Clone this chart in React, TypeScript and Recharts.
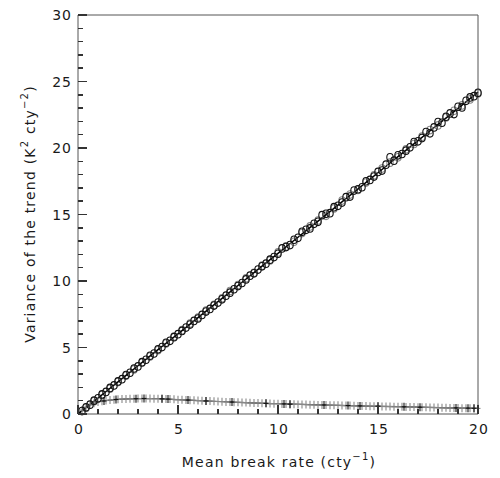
import React from 'react';
import { ComposedChart, XAxis, YAxis, Scatter, Line } from 'recharts';

// x grid for the dense simulated points (mean break rate, cty^-1)
const rateGrid = [
  0.2, 0.4, 0.6, 0.8, 1.0, 1.2, 1.4, 1.6, 1.8, 2.0,
  2.2, 2.4, 2.6, 2.8, 3.0, 3.2, 3.4, 3.6, 3.8, 4.0,
  4.2, 4.4, 4.6, 4.8, 5.0, 5.2, 5.4, 5.6, 5.8, 6.0,
  6.2, 6.4, 6.6, 6.8, 7.0, 7.2, 7.4, 7.6, 7.8, 8.0,
  8.2, 8.4, 8.6, 8.8, 9.0, 9.2, 9.4, 9.6, 9.8, 10.0,
  10.2, 10.4, 10.6, 10.8, 11.0, 11.2, 11.4, 11.6, 11.8, 12.0,
  12.2, 12.4, 12.6, 12.8, 13.0, 13.2, 13.4, 13.6, 13.8, 14.0,
  14.2, 14.4, 14.6, 14.8, 15.0, 15.2, 15.4, 15.6, 15.8, 16.0,
  16.2, 16.4, 16.6, 16.8, 17.0, 17.2, 17.4, 17.6, 17.8, 18.0,
  18.2, 18.4, 18.6, 18.8, 19.0, 19.2, 19.4, 19.6, 19.8, 20.0,
];

// variance of the trend, black circles
const blackCircles = [
  0.22, 0.50, 0.70, 1.00, 1.18, 1.47, 1.66, 1.96, 2.15, 2.45,
  2.62, 2.93, 3.10, 3.42, 3.58, 3.90, 4.08, 4.38, 4.55, 4.86,
  5.03, 5.35, 5.50, 5.78, 6.00, 6.25, 6.50, 6.72, 7.00, 7.18,
  7.45, 7.70, 7.90, 8.15, 8.38, 8.62, 8.90, 9.12, 9.38, 9.62,
  9.85, 10.12, 10.40, 10.58, 10.86, 11.10, 11.30, 11.60, 11.80, 12.05,
  12.45, 12.55, 12.70, 13.10, 13.25, 13.70, 13.85, 13.95, 14.30, 14.45,
  14.95, 15.05, 15.10, 15.55, 15.65, 15.90, 16.30, 16.35, 16.80, 16.90,
  17.05, 17.50, 17.60, 17.85, 18.20, 18.30, 18.75, 19.30, 19.05, 19.45,
  19.55, 19.80, 20.05, 20.45, 20.50, 20.75, 21.20, 21.10, 21.55, 21.95,
  21.90, 22.35, 22.60, 22.55, 23.10, 23.05, 23.55, 23.80, 23.90, 24.15,
];

// variance of the trend, grey circles
const grayRates = [
  0.4, 0.8, 1.2, 1.6, 2.0, 2.4, 2.8, 3.2, 3.6, 4.0,
  4.4, 4.8, 5.2, 5.6, 6.0, 6.4, 6.8, 7.2, 7.6, 8.0,
  8.4, 8.8, 9.2, 9.6, 10.0, 10.4, 10.8, 11.2, 11.6, 12.0,
  12.4, 12.8, 13.2, 13.6, 14.0, 14.4, 14.8, 15.2, 15.6, 16.0,
  16.4, 16.8, 17.2, 17.6, 18.0, 18.4, 18.8, 19.2, 19.6, 20.0,
];
const grayCircles = [
  0.45, 0.95, 1.42, 1.90, 2.40, 2.88, 3.35, 3.85, 4.32, 4.80,
  5.30, 5.82, 6.30, 6.80, 7.25, 7.78, 8.20, 8.70, 9.25, 9.70,
  10.20, 10.62, 11.15, 11.55, 12.15, 12.60, 12.95, 13.60, 14.10, 14.55,
  14.90, 15.45, 16.05, 16.50, 16.85, 17.40, 17.95, 18.45, 18.90, 19.30,
  19.90, 20.30, 20.85, 21.35, 21.70, 22.30, 22.80, 23.20, 23.65, 24.10,
];

// fitted curve for the upper set
const fitRates = [0, 1, 2, 3, 4, 5, 6, 7, 8, 9, 10, 11, 12, 13, 14, 15, 16, 17, 18, 19, 20];
const fitValues = [
  0, 1.2, 2.42, 3.63, 4.84, 6.03, 7.24, 8.45, 9.66, 10.87,
  12.08, 13.29, 14.5, 15.71, 16.92, 18.14, 19.35, 20.56, 21.77, 22.98, 24.2,
];

// lower set: grey crosses on rateGrid
const crossValues = [
  0.30, 0.52, 0.68, 0.80, 0.90, 0.96, 1.01, 1.05, 1.08, 1.10,
  1.12, 1.13, 1.14, 1.15, 1.16, 1.16, 1.16, 1.16, 1.15, 1.15,
  1.14, 1.13, 1.12, 1.10, 1.08, 1.07, 1.06, 1.04, 1.03, 1.01,
  1.00, 0.98, 0.97, 0.95, 0.94, 0.93, 0.91, 0.90, 0.89, 0.88,
  0.87, 0.86, 0.84, 0.83, 0.82, 0.81, 0.80, 0.79, 0.78, 0.77,
  0.76, 0.75, 0.74, 0.73, 0.72, 0.72, 0.71, 0.70, 0.69, 0.68,
  0.68, 0.67, 0.66, 0.65, 0.65, 0.64, 0.63, 0.63, 0.62, 0.61,
  0.61, 0.60, 0.59, 0.59, 0.58, 0.57, 0.57, 0.56, 0.55, 0.55,
  0.54, 0.53, 0.53, 0.52, 0.51, 0.51, 0.50, 0.49, 0.49, 0.48,
  0.47, 0.47, 0.46, 0.45, 0.45, 0.44, 0.43, 0.43, 0.42, 0.42,
];

// lower set: black crosses
const blackCrossRates = [1.3, 1.9, 2.9, 3.3, 4.2, 4.5, 5.5, 6.4, 7.7, 9.4, 10.3, 10.6, 12.3, 13.5, 14.1, 15.0, 16.3, 17.1, 18.9, 19.5, 19.8];
const blackCrossValues = [0.98, 1.09, 1.15, 1.17, 1.14, 1.12, 1.05, 0.98, 0.90, 0.80, 0.76, 0.74, 0.68, 0.64, 0.61, 0.59, 0.54, 0.51, 0.46, 0.44, 0.43];

// fitted curve for the lower set
const lowRates = [0, 0.5, 1, 1.5, 2, 3, 4, 5, 6, 7, 8, 9, 10, 12, 14, 16, 18, 20];
const lowValues = [0, 0.6, 0.9, 1.03, 1.1, 1.16, 1.15, 1.08, 1.01, 0.94, 0.88, 0.82, 0.77, 0.68, 0.61, 0.55, 0.48, 0.42];

const xTicks = [0, 1, 2, 3, 4, 5, 6, 7, 8, 9, 10, 11, 12, 13, 14, 15, 16, 17, 18, 19, 20];
const yTicks = [0, 1, 2, 3, 4, 5, 6, 7, 8, 9, 10, 11, 12, 13, 14, 15, 16, 17, 18, 19, 20, 21, 22, 23, 24, 25, 26, 27, 28, 29, 30];

const zip = (xs: number[], ys: number[]) => xs.map((x, i) => ({ x, y: ys[i] }));

const FONT = "'DejaVu Sans', 'Liberation Sans', sans-serif";
const AXIS = '#555';
const TICK = '#333';
const TEXT = '#1a1a1a';

const tickLen = (v: number) => (v % 5 === 0 ? 9 : 5);

const LeftTick = (p: any) => {
  const v = p.payload.value;
  return (
    <g>
      <line x1={p.x} y1={p.y} x2={p.x + tickLen(v)} y2={p.y} stroke={TICK} strokeWidth={1.5} shapeRendering="crispEdges" />
      {v % 5 === 0 && (
        <text x={p.x - 6} y={p.y} textAnchor="end" dominantBaseline="central" fontFamily={FONT} fontSize={14} fill={TEXT} letterSpacing={1}>
          {v}
        </text>
      )}
    </g>
  );
};
const RightTick = (p: any) => {
  const v = p.payload.value;
  return <line x1={p.x} y1={p.y} x2={p.x - tickLen(v)} y2={p.y} stroke={TICK} strokeWidth={1.5} shapeRendering="crispEdges" />;
};
const BottomTick = (p: any) => {
  const v = p.payload.value;
  return (
    <g>
      <line x1={p.x} y1={p.y} x2={p.x} y2={p.y - tickLen(v)} stroke={TICK} strokeWidth={1.5} shapeRendering="crispEdges" />
      {v % 5 === 0 && (
        <text x={p.x + 1} y={p.y + 15} textAnchor="middle" dominantBaseline="central" fontFamily={FONT} fontSize={14} fill={TEXT} letterSpacing={1}>
          {v}
        </text>
      )}
    </g>
  );
};
const TopTick = (p: any) => {
  const v = p.payload.value;
  return <line x1={p.x} y1={p.y} x2={p.x} y2={p.y + tickLen(v)} stroke={TICK} strokeWidth={1.5} shapeRendering="crispEdges" />;
};

const XTitle = () => (
  <text x={279} y={462} textAnchor="middle" dominantBaseline="central" fontFamily={FONT} fontSize={14} fill={TEXT} letterSpacing={1.2}>
    Mean break rate (cty
    <tspan dy={-6} fontSize={10}>−1</tspan>
    <tspan dy={6}>)</tspan>
  </text>
);
const YTitle = () => (
  <text x={0} y={0} transform="translate(30,214) rotate(-90)" textAnchor="middle" dominantBaseline="central" fontFamily={FONT} fontSize={14} fill={TEXT} letterSpacing={1.2}>
    Variance of the trend (K
    <tspan dy={-6} fontSize={10}>2</tspan>
    <tspan dy={6}> cty</tspan>
    <tspan dy={-6} fontSize={10}>−2</tspan>
    <tspan dy={6}>)</tspan>
  </text>
);

const circleShape = (color: string) => (p: any) => (
  <ellipse cx={p.cx} cy={p.cy} rx={3.2} ry={3.8} fill="none" stroke={color} strokeWidth={1.1} />
);
const crossShape = (color: string) => (p: any) => (
  <g stroke={color} strokeWidth={1.1}>
    <line x1={p.cx} y1={p.cy - 4} x2={p.cx} y2={p.cy + 4} />
    <line x1={p.cx - 2.5} y1={p.cy} x2={p.cx + 2.5} y2={p.cy} />
  </g>
);

export default function App() {
  const grayCircleData = zip(grayRates, grayCircles);
  const blackCircleData = zip(rateGrid, blackCircles);
  const fitData = zip(fitRates, fitValues);
  const crossData = zip(rateGrid, crossValues);
  const blackCrossData = zip(blackCrossRates, blackCrossValues);
  const lowData = zip(lowRates, lowValues);

  return (
    <div style={{ position: 'absolute', left: 0, top: 0, width: 500, height: 478, background: '#fff' }}>
      <ComposedChart width={500} height={478} margin={{ top: 14, right: 21, bottom: 14, left: 18 }}>
        <XAxis
          xAxisId="b"
          dataKey="x"
          type="number"
          domain={[0, 20]}
          ticks={xTicks}
          interval={0}
          height={50}
          tickSize={0}
          tickMargin={0}
          tickLine={false}
          tick={BottomTick}
          axisLine={{ stroke: AXIS }}
          label={<XTitle />}
        />
        <XAxis
          xAxisId="t"
          orientation="top"
          type="number"
          domain={[0, 20]}
          ticks={xTicks}
          interval={0}
          height={1}
          tickSize={0}
          tickMargin={0}
          tickLine={false}
          tick={TopTick}
          axisLine={{ stroke: AXIS }}
        />
        <YAxis
          yAxisId="l"
          dataKey="y"
          type="number"
          domain={[0, 30]}
          ticks={yTicks}
          interval={0}
          width={60}
          tickSize={0}
          tickMargin={0}
          tickLine={false}
          tick={LeftTick}
          axisLine={{ stroke: AXIS }}
          label={<YTitle />}
        />
        <YAxis
          yAxisId="r"
          orientation="right"
          type="number"
          domain={[0, 30]}
          ticks={yTicks}
          interval={0}
          width={1}
          tickSize={0}
          tickMargin={0}
          tickLine={false}
          tick={RightTick}
          axisLine={{ stroke: AXIS }}
        />
        <Scatter xAxisId="b" yAxisId="l" data={crossData} dataKey="y" shape={crossShape('#888')} isAnimationActive={false} />
        <Scatter xAxisId="b" yAxisId="l" data={grayCircleData} dataKey="y" shape={circleShape('#888')} isAnimationActive={false} />
        <Scatter xAxisId="b" yAxisId="l" data={blackCircleData} dataKey="y" shape={circleShape('#111')} isAnimationActive={false} />
        <Scatter xAxisId="b" yAxisId="l" data={blackCrossData} dataKey="y" shape={crossShape('#111')} isAnimationActive={false} />
        <Line xAxisId="b" yAxisId="l" data={fitData} dataKey="y" type="monotone" stroke="#000" strokeWidth={1.5} dot={false} isAnimationActive={false} />
        <Line xAxisId="b" yAxisId="l" data={lowData} dataKey="y" type="monotone" stroke="#000" strokeWidth={1.2} dot={false} isAnimationActive={false} />
      </ComposedChart>
    </div>
  );
}
